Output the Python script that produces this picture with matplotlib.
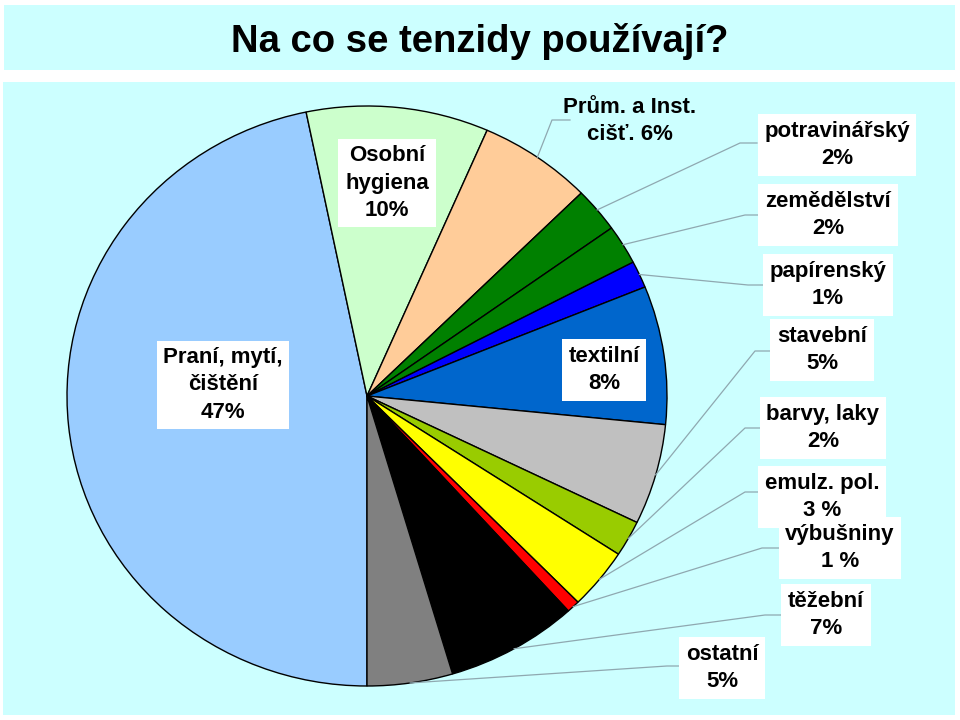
import numpy as np
import matplotlib
matplotlib.use("Agg")
import matplotlib.pyplot as plt
from matplotlib.patches import Rectangle

plt.rcParams['font.family'] = ['Liberation Sans', 'DejaVu Sans']

# data (share of the pie, %)
names = ["Praní, mytí,\nčištění\n47%", "Osobní\nhygiena\n10%", "Prům. a Inst.\ncišť. 6%",
         "potravinářský\n2%", "zemědělství\n2%", "papírenský\n1%", "textilní\n8%",
         "stavební\n5%", "barvy, laky\n2%", "emulz. pol.\n3 %", "výbušniny\n1 %",
         "těžební\n7%", "ostatní\n5%"]
shares = [46.7, 9.8, 6.1, 2.5, 2.2, 1.5, 7.7, 5.6, 2.0, 3.4, 0.7, 7.1, 4.6]
colors = ["#99CCFF", "#CCFFCC", "#FFCC99", "#008000", "#008000", "#0000FF", "#0066CC",
          "#C0C0C0", "#99CC00", "#FFFF00", "#FF0000", "#000000", "#808080"]

# label placement in pixels (centre of text), leader elbow (None = inside label)
lab_pos = [(223, 385), (387, 183), (630, 121), (837, 145), (828, 215), (828, 285),
           (604, 370), (822, 350), (823, 428), (822, 497), (840, 548), (826, 615), (722, 668)]
boxed = [True, True, False, True, True, True, True, True, True, True, True, True, True]
elbow = [None, None, (552, 120), (740, 143), (745, 215), (748, 285), None,
         (755, 351), (745, 428), (745, 492), (762, 548), (765, 615), (667, 666)]
line_end = [None, None, 570, 757, 760, 763, None, 772, 760, 758, 780, 782, 682]

cx, cy, rx, ry = 367, 396, 300, 290
W, H = 960, 720


def px(x, y):
    return (x - cx) / rx, (cy - y) / ry


fig = plt.figure(figsize=(9.6, 7.2), dpi=100)
fig.patch.set_facecolor("white")
ax = fig.add_axes([0, 0, 1, 1])

# cyan panels
ax.add_patch(Rectangle((4 / W, 1 - 70 / H), 951 / W, 65 / H, transform=ax.transAxes,
                       facecolor="#CCFFFF", edgecolor="none", zorder=0))
ax.add_patch(Rectangle((3 / W, 1 - 715 / H), 952 / W, 633 / H, transform=ax.transAxes,
                       facecolor="#CCFFFF", edgecolor="none", zorder=0))

wedges, _ = ax.pie(shares, colors=colors, startangle=270, counterclock=False,
                   wedgeprops=dict(edgecolor="black", linewidth=1))
for w in wedges:
    w.set_zorder(2)

ax.set_aspect("auto")
ax.set_xlim(-cx / rx, (W - cx) / rx)
ax.set_ylim((cy - H) / ry, cy / ry)
ax.axis("off")

ax.text(*px(480, 52), "Na co se tenzidy používají?", fontsize=27.5, fontweight="bold",
        ha="center", va="baseline", zorder=5)

for i, w in enumerate(wedges):
    if elbow[i] is not None:
        t = np.deg2rad((w.theta1 + w.theta2) / 2)
        sx, sy = np.cos(t), np.sin(t)
        ex, ey = px(*elbow[i])
        fx, fy = px(line_end[i], elbow[i][1])
        ax.plot([sx, ex, fx], [sy, ey, fy], color="#8FA8B0", lw=0.9, zorder=3)
    bb = dict(boxstyle="square,pad=0.3", facecolor="white", edgecolor="none") if boxed[i] else None
    ax.text(*px(*lab_pos[i]), names[i], fontsize=16, fontweight="bold", ha="center",
            va="center", linespacing=1.38, bbox=bb, zorder=4)

fig.savefig("out.png", dpi=100)
